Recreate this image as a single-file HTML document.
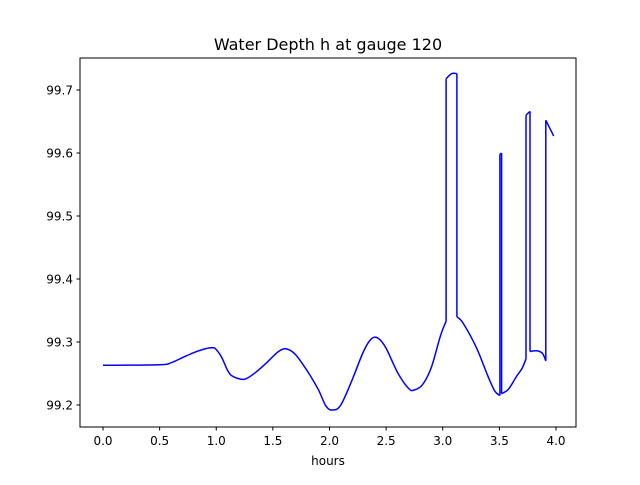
<!DOCTYPE html>
<html><head><meta charset="utf-8"><style>
body{margin:0;background:#fff;}
svg text{font-family:"DejaVu Sans","Liberation Sans",sans-serif;fill:#000;}
</style></head><body>
<svg id="chart" width="640" height="480">
<rect width="640" height="480" fill="#fff"/>
<text x="328" y="50" font-size="16" text-anchor="middle">Water Depth h at gauge 120</text>
<g id="plot"></g>
<rect x="80" y="58" width="496" height="369" fill="none" stroke="#000" stroke-width="1"/>
<text x="328" y="465" font-size="12" text-anchor="middle">hours</text>
</svg>
<script>
const xTicks=[0,0.5,1.0,1.5,2.0,2.5,3.0,3.5,4.0];
const xTickLabels=["0.0","0.5","1.0","1.5","2.0","2.5","3.0","3.5","4.0"];
const yTicks=[99.2,99.3,99.4,99.5,99.6,99.7];
const yTickLabels=["99.2","99.3","99.4","99.5","99.6","99.7"];
const hours=[0,0.5,0.6,0.7,0.8,0.9,0.97,1.0,1.05,1.1,1.15,1.25,1.35,1.45,1.55,1.62,1.7,1.8,1.9,1.97,2.03,2.1,2.2,2.3,2.37,2.43,2.5,2.6,2.7,2.75,2.82,2.9,2.98,3.03,3.03,3.08,3.125,3.125,3.18,3.3,3.4,3.46,3.505,3.505,3.52,3.52,3.58,3.65,3.7,3.735,3.735,3.77,3.77,3.83,3.88,3.91,3.91,3.98];
const depth=[99.263,99.264,99.267,99.275,99.283,99.289,99.291,99.288,99.275,99.255,99.245,99.241,99.252,99.268,99.285,99.289,99.280,99.255,99.225,99.198,99.192,99.200,99.240,99.285,99.305,99.306,99.290,99.252,99.226,99.224,99.232,99.260,99.310,99.333,99.718,99.726,99.726,99.340,99.330,99.290,99.245,99.222,99.215,99.598,99.600,99.218,99.225,99.245,99.258,99.273,99.660,99.666,99.285,99.286,99.282,99.270,99.652,99.627];
const X=v=>103+(v-0)*113.25;
const Y=v=>405-(v-99.2)*630;
const NS="http://www.w3.org/2000/svg";
const g=document.getElementById('plot');
function mk(t,a){const e=document.createElementNS(NS,t);for(const k in a)e.setAttribute(k,a[k]);g.appendChild(e);return e;}
xTicks.forEach((v,i)=>{
 const l=mk('line',{x1:X(v),x2:X(v),y1:427,y2:430.5,stroke:'#000'});
 
 
 const t=mk('text',{x:X(v),y:445,'font-size':12,'text-anchor':'middle'});t.textContent=xTickLabels[i];
 
 
});
yTicks.forEach((v,i)=>{
 const l=mk('line',{x1:76.5,x2:80,y1:Y(v),y2:Y(v),stroke:'#000'});
 
 
 const t=mk('text',{x:73,y:Y(v)+4.5,'font-size':12,'text-anchor':'end'});t.textContent=yTickLabels[i];
 
 
});
// split into smooth segments at vertical jumps
const P=hours.map((h,i)=>[X(h),Y(depth[i])]);
let segs=[[P[0]]];
for(let i=1;i<P.length;i++){
 if(hours[i]===hours[i-1]){segs.push([P[i-1],P[i]]);segs.push([P[i]]);}
 else segs[segs.length-1].push(P[i]);
}
let d='';
segs.forEach(s=>{
 if(s.length<2)return;
 d+='M'+s[0][0].toFixed(1)+','+s[0][1].toFixed(1);
 for(let i=0;i<s.length-1;i++){
  const p0=s[Math.max(0,i-1)],p1=s[i],p2=s[i+1],p3=s[Math.min(s.length-1,i+2)];
  const c1=[p1[0]+(p2[0]-p0[0])/6,p1[1]+(p2[1]-p0[1])/6];
  const c2=[p2[0]-(p3[0]-p1[0])/6,p2[1]-(p3[1]-p1[1])/6];
  d+='C'+c1[0].toFixed(1)+','+c1[1].toFixed(1)+' '+c2[0].toFixed(1)+','+c2[1].toFixed(1)+' '+p2[0].toFixed(1)+','+p2[1].toFixed(1);
 }
});
const pl=mk('path',{d:d,fill:'none',stroke:'#0000ff','stroke-width':1.5,'stroke-linejoin':'round'});


</script>
</body></html>
